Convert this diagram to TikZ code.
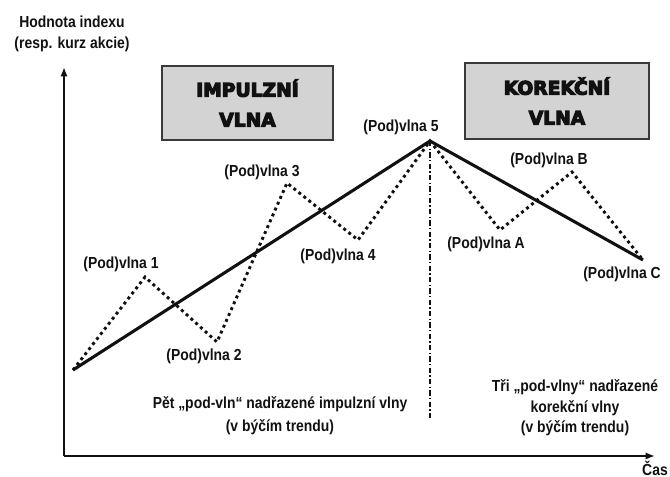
\documentclass[tikz,border=0pt]{standalone}
\usepackage{fontspec}
\setmainfont{Liberation Sans}[FakeStretch=0.87]
\newfontfamily\boxfont{DejaVu Sans Bold}[FakeBold=6]
\usetikzlibrary{arrows.meta}
\definecolor{boxgray}{HTML}{D3D3D3}
\definecolor{boxedge}{HTML}{3A3A3A}
\definecolor{ink}{HTML}{111111}
\begin{document}
\begin{tikzpicture}[x=0.75pt,y=-0.75pt,
  lbl/.style={font=\bfseries\fontsize{12}{13}\selectfont, text=ink, inner sep=0pt, align=center},
  axis/.style={line width=1.6pt, ink, -{Latex[length=7pt,width=5.5pt]}},
  trend/.style={line width=2.3pt, ink, line join=miter},
  wave/.style={line width=2.2pt, ink, dash pattern=on 2.2pt off 2.6pt},
  divider/.style={line width=0.8pt, ink, dash pattern=on 4pt off 1.8pt on 0.9pt off 1.8pt},
  titlebox/.style={draw=boxedge, line width=1pt, fill=boxgray, minimum width=171*0.75pt, minimum height=74*0.75pt,
    text=ink, font=\boxfont\fontsize{14}{22.5}\selectfont, align=center, inner sep=0pt}]
\useasboundingbox (0,0) rectangle (670,477);

% axes
\coordinate (origin) at (64,456);
\coordinate (ytip) at (64,67);
\coordinate (xtip) at (655,456);
\draw[axis] (origin) -- (ytip);
\draw[axis] (origin) -- (xtip);
\node[lbl, font=\bfseries\fontsize{12}{15.8}\selectfont] (ylabel) at (72,34) {Hodnota indexu\\(resp. kurz akcie)};
\node[lbl] (xlabel) at (655,468) {Čas};

% title boxes
\node[titlebox] (impulse) at (247.5,103) {IMPULZNÍ\\VLNA};
\node[titlebox, minimum width=184*0.75pt, minimum height=76*0.75pt] (correct) at (557,101) {KOREKČNÍ\\VLNA};

% wave turning points
\coordinate (p0) at (73,370);
\coordinate (p1) at (145,277);
\coordinate (p2) at (217,342);
\coordinate (p3) at (287,183);
\coordinate (p4) at (358,240);
\coordinate (p5) at (430,141);
\coordinate (pA) at (500,230);
\coordinate (pB) at (572,172);
\coordinate (pC) at (643,260);
\coordinate (dividerEnd) at (430,420);

% divider between impulse and correction
\draw[divider] (p5) -- (dividerEnd);

% sub-waves and the main trend
\draw[wave] (p0) -- (p1) -- (p2) -- (p3) -- (p4) -- (p5) -- (pA) -- (pB) -- (pC);
\draw[trend] (p0) -- (p5) -- (pC);

% sub-wave labels
\node[lbl] (l1) at (121,264) {(Pod)vlna 1};
\node[lbl] (l2) at (204,356) {(Pod)vlna 2};
\node[lbl] (l3) at (262,172) {(Pod)vlna 3};
\node[lbl] (l4) at (338,256) {(Pod)vlna 4};
\node[lbl] (l5) at (401,127) {(Pod)vlna 5};
\node[lbl] (lA) at (486,244) {(Pod)vlna A};
\node[lbl] (lB) at (549,160) {(Pod)vlna B};
\node[lbl] (lC) at (622,274) {(Pod)vlna C};

% captions
\node[lbl, font=\bfseries\fontsize{12}{17}\selectfont] (impnote) at (280,416) {Pět „pod-vln“ nadřazené impulzní vlny\\(v býčím trendu)};
\node[lbl, font=\bfseries\fontsize{12}{15.5}\selectfont] (cornote) at (575,408) {Tři „pod-vlny“ nadřazené\\korekční vlny\\(v býčím trendu)};
\end{tikzpicture}
\end{document}
